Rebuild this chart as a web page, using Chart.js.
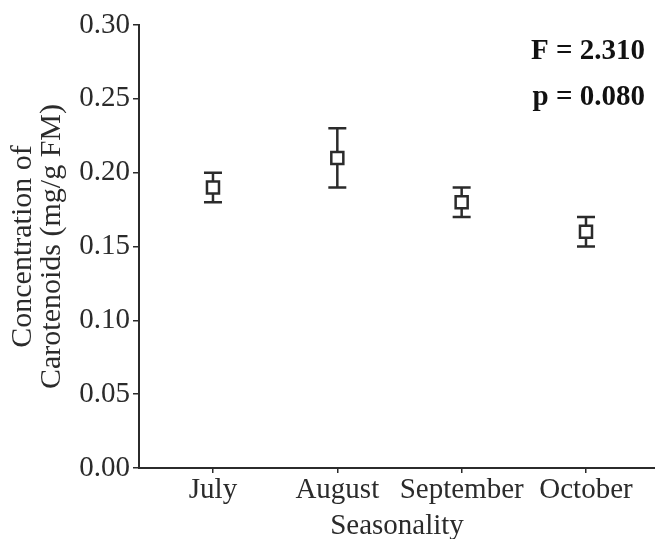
<!DOCTYPE html>
<html>
<head>
<meta charset="utf-8">
<script src="https://cdn.jsdelivr.net/npm/chart.js@4"></script>
<style>
  html, body { margin: 0; padding: 0; background: #fff; }
  #wrap { width: 655px; height: 539px; }
</style>
</head>
<body>
<div id="wrap"><canvas id="c" width="655" height="539"></canvas></div>
<script>
// Carotenoid concentration by month (mean with lower/upper error bounds)
const months = ['July', 'August', 'September', 'October'];
const meanValues = [0.19, 0.21, 0.18, 0.16];
const lowerValues = [0.18, 0.19, 0.17, 0.15];
const upperValues = [0.20, 0.23, 0.19, 0.17];
const yTicks = [0.00, 0.05, 0.10, 0.15, 0.20, 0.25, 0.30];
const statLines = ['F = 2.310', 'p = 0.080'];

const ink = '#2b2b2b';
const serif = "'Liberation Serif', 'Times New Roman', serif";

const points = meanValues.map((v, i) => ({ x: i + 1, y: v }));

// Vertical error bars with caps, drawn behind the markers
const errorBars = {
  id: 'errorBars',
  beforeDatasetsDraw(chart) {
    const { ctx, scales } = chart;
    const xs = scales.x, ys = scales.y;
    ctx.save();
    ctx.strokeStyle = ink;
    ctx.lineWidth = 2.5;
    const cap = 9;
    meanValues.forEach((v, i) => {
      const px = xs.getPixelForValue(i + 1);
      const pLo = ys.getPixelForValue(lowerValues[i]);
      const pHi = ys.getPixelForValue(upperValues[i]);
      ctx.beginPath();
      ctx.moveTo(px, pLo); ctx.lineTo(px, pHi);
      ctx.moveTo(px - cap, pLo); ctx.lineTo(px + cap, pLo);
      ctx.moveTo(px - cap, pHi); ctx.lineTo(px + cap, pHi);
      ctx.stroke();
    });
    ctx.restore();
  }
};

// Test statistics in the top-right corner
const statsText = {
  id: 'statsText',
  afterDraw(chart) {
    const { ctx } = chart;
    ctx.save();
    ctx.fillStyle = '#111';
    ctx.font = 'bold 29px ' + serif;
    ctx.textAlign = 'right';
    ctx.textBaseline = 'alphabetic';
    ctx.fillText(statLines[0], 645, 59);
    ctx.fillText(statLines[1], 645, 105);
    ctx.restore();
  }
};

new Chart(document.getElementById('c'), {
  type: 'scatter',
  data: {
    datasets: [{
      data: points,
      pointStyle: 'rect',
      pointRadius: 8.5,
      pointBorderWidth: 2.5,
      pointBackgroundColor: '#fff',
      pointBorderColor: ink,
      showLine: false
    }]
  },
  options: {
    responsive: false,
    animation: false,
    layout: { autoPadding: false, padding: { top: 25, right: 0, left: 0, bottom: 0 } },
    plugins: { legend: { display: false }, tooltip: { enabled: false } },
    scales: {
      x: {
        type: 'linear',
        min: 0.405,
        max: 4.555,
        afterBuildTicks(scale) { scale.ticks = months.map((m, i) => ({ value: i + 1 })); },
        afterFit(scale) {
          scale.height = 71;
          scale.paddingLeft = 0;
          scale.paddingRight = 0;
        },
        ticks: {
          callback: (v) => months[v - 1],
          color: ink,
          font: { family: serif, size: 29 },
          padding: 0,
          maxRotation: 0,
          autoSkip: false
        },
        grid: { drawOnChartArea: false, drawTicks: true, tickLength: 5, color: ink, lineWidth: 1.5 },
        border: { display: true, color: ink, width: 2 },
        title: {
          display: true,
          text: 'Seasonality',
          color: ink,
          font: { family: serif, size: 29 },
          padding: { top: 0, bottom: -5 }
        }
      },
      y: {
        min: 0,
        max: 0.3,
        afterBuildTicks(scale) { scale.ticks = yTicks.map(v => ({ value: v })); },
        afterFit(scale) { scale.width = 139; },
        ticks: {
          callback: (v) => v.toFixed(2),
          color: ink,
          font: { family: serif, size: 29 },
          padding: 3
        },
        grid: { drawOnChartArea: false, drawTicks: true, tickLength: 6, color: ink, lineWidth: 1.5 },
        border: { display: true, color: ink, width: 2 },
        title: {
          display: true,
          text: ['Concentration of', 'Carotenoids (mg/g FM)'],
          color: ink,
          font: { family: serif, size: 30, lineHeight: 0.95 },
          padding: { top: 9, bottom: 0 }
        }
      }
    }
  },
  plugins: [errorBars, statsText]
});
</script>
</body>
</html>
